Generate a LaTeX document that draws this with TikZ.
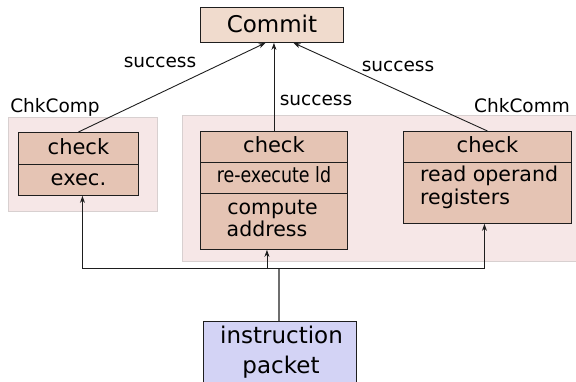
\documentclass[tikz,border=0pt]{standalone}
\usepackage{fontspec}
\setmainfont{DejaVu Sans}
\newfontfamily\condfont[FakeStretch=0.83]{DejaVu Sans}
\usetikzlibrary{arrows.meta,calc}
\definecolor{commitfill}{HTML}{F0DBCD}
\definecolor{cellfill}{HTML}{E5C4B4}
\definecolor{groupfill}{HTML}{F6E7E7}
\definecolor{groupline}{HTML}{D8D0D0}
\definecolor{packetfill}{HTML}{D3D3F5}
\definecolor{linecol}{HTML}{1E1E1E}
\definecolor{feedcol}{HTML}{6E6E6E}
\begin{document}
\begin{tikzpicture}[x=1pt,y=-1pt,
  cell/.style={draw=linecol, line width=0.9pt, fill=cellfill, anchor=north west,
    inner sep=0pt, text height=14pt, text depth=2pt, font=\fontsize{21}{24}\selectfont},
  group/.style={draw=groupline, line width=1.2pt, fill=groupfill, anchor=north west, inner sep=0pt},
  lbl/.style={anchor=base, inner sep=0pt, font=\fontsize{18.5}{21}\selectfont},
  txt/.style={anchor=base west, inner sep=0pt, font=\fontsize{20.5}{24}\selectfont},
  arr/.style={draw=linecol, line width=0.9pt, -{Stealth[length=7pt,width=5pt]}},
]
\useasboundingbox (0,0) rectangle (576,382);

% groups
\node[group, minimum width=149, minimum height=94] (gcomp) at (8,117) {};
\node[group, minimum width=420, minimum height=146] (gcomm) at (182,115) {};
\node[lbl] (lcomp) at (55,113) {ChkComp};
\node[lbl] (lcomm) at (522,113) {ChkComm};

% commit
\node[cell, fill=commitfill, minimum width=143, minimum height=35,
  font=\fontsize{23}{26}\selectfont, text height=16pt, text depth=0pt] (commit) at (200,7) {Commit};

% left box
\node[cell, minimum width=120, minimum height=32] (lcheck) at (18,132) {check};
\node[cell, minimum width=120, minimum height=31] (lexec) at (18,164) {exec.};

% middle box
\node[cell, minimum width=147, minimum height=31] (mcheck) at (200,131) {check\hspace{12pt}};
\node[cell, minimum width=147, minimum height=31, font=\condfont\fontsize{21}{24}\selectfont, text height=12pt, text depth=2pt] (mre) at (200,162) {re-execute ld\hspace{10pt}};
\node[cell, minimum width=147, minimum height=56] (maddr) at (200,193) {};
\node[txt, anchor=base] (tcompute) at (272.5,215) {compute};
\node[txt, anchor=base] (taddress) at (267,237) {address};

% right box
\node[cell, minimum width=168, minimum height=31] (rcheck) at (403,131) {check};
\node[cell, minimum width=168, minimum height=61] (rread) at (403,162) {};
\node[txt] (tread) at (420,182) {read operand};
\node[txt] (tregs) at (420,205) {registers};

% packet
\node[cell, fill=packetfill, minimum width=153, minimum height=80] (packet) at (203,321) {};
\node[txt, anchor=base, font=\fontsize{23}{26}\selectfont] (tinstr) at (281.5,343) {instruction};
\node[txt, anchor=base, font=\fontsize{23}{26}\selectfont] (tpacket) at (281,373) {packet};

% success arrows
\draw[arr] (lcheck.north) -- ($(commit.south west)!0.455!(commit.south east)$);
\draw[arr] (mcheck.north) -- (mcheck.north |- commit.south);
\draw[arr] (rcheck.north) -- ($(commit.south west)!0.65!(commit.south east)$);
\node[lbl] (s1) at (160,68) {success};
\node[lbl] (s2) at (316,106) {success};
\node[lbl] (s3) at (398,72) {success};

% feed
\coordinate (bus) at (279,268);
\draw[draw=feedcol, line width=1.3pt] (packet.north -| bus) -- (bus);
\draw[arr] (bus) -| ($(lexec.south)+(4,0)$);
\draw[arr] (bus) -| ($(maddr.south)+(-7,0)$);
\draw[arr] (bus) -| ($(rread.south)+(-3,0)$);
\end{tikzpicture}
\end{document}
